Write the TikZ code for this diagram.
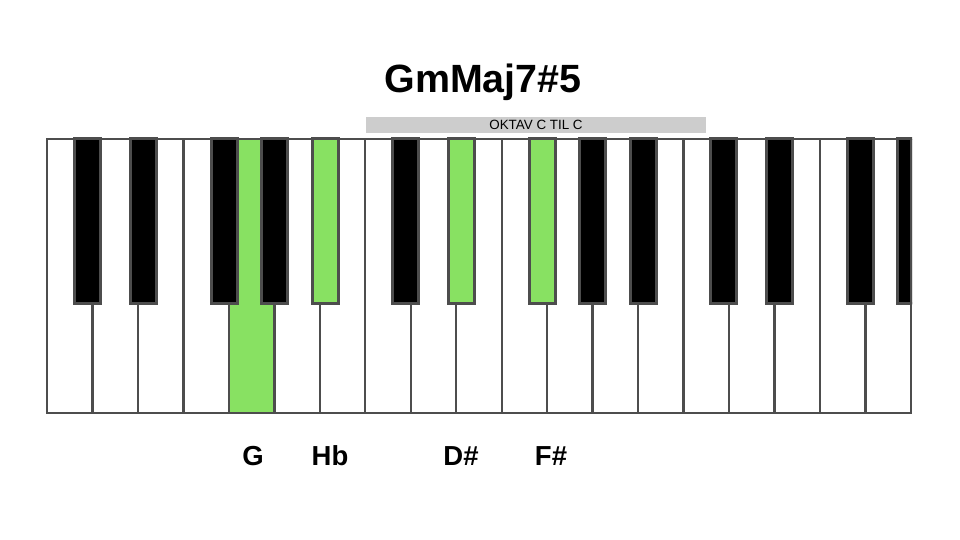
\documentclass[tikz,border=0pt]{standalone}
\usepackage{fontspec}
\setmainfont{Liberation Sans}
\usetikzlibrary{positioning}
\definecolor{keygreen}{RGB}{136,225,98}
\definecolor{keyline}{RGB}{77,77,77}
\definecolor{barfill}{RGB}{205,205,205}

\begin{document}
\begin{tikzpicture}[
    x=1pt, y=-1pt,
    whitekey/.style={draw=keyline, line width=2.4pt, fill=white},
    blackkey/.style={draw=keyline, line width=3pt, fill=black},
    notelabel/.style={anchor=base, inner sep=0pt, font=\fontsize{27.5}{30}\selectfont\bfseries}
]
\useasboundingbox (0,0) rectangle (960,540);
\def\kw{45.47}

% White keys
\foreach \i in {0,...,18}
    \draw[whitekey] ({47+\i*\kw},139) rectangle ({47+(\i+1)*\kw},413);
\draw[whitekey, fill=keygreen] ({47+4*\kw},139) rectangle ({47+5*\kw},413);

% Black keys
\begin{scope}
    \clip (45,130) rectangle (912.2,420);
    \foreach \o in {0,1,2}
        \foreach \b in {0.88, 2.115, 3.9, 5.0, 6.125}
            \draw[blackkey] ({47+(\o*7+\b)*\kw-13},139) rectangle ({47+(\o*7+\b)*\kw+13},303.5);
    \foreach \b in {6.125, 9.115, 10.9}
        \draw[blackkey, fill=keygreen] ({47+\b*\kw-13},139) rectangle ({47+\b*\kw+13},303.5);
\end{scope}
\draw[keyline, line width=2.4pt] (911,137.8) -- (911,414.2);

% Title and octave bar
\node[anchor=base, inner sep=0pt, font=\fontsize{39.4}{42}\selectfont\bfseries] (title) at (483,93) {GmMaj7\#5};
\node[fill=barfill, minimum width=340pt, minimum height=16pt, inner sep=0pt,
      font=\fontsize{13.4}{14}\selectfont] (octave) at (536,125) {OKTAV C TIL C};

% Labels
\node[notelabel] (g) at (253,465) {G};
\node[notelabel] (hb) at (330,465) {Hb};
\node[notelabel] (dis) at (461,465) {D\#};
\node[notelabel] (fis) at (551,465) {F\#};

\end{tikzpicture}
\end{document}
